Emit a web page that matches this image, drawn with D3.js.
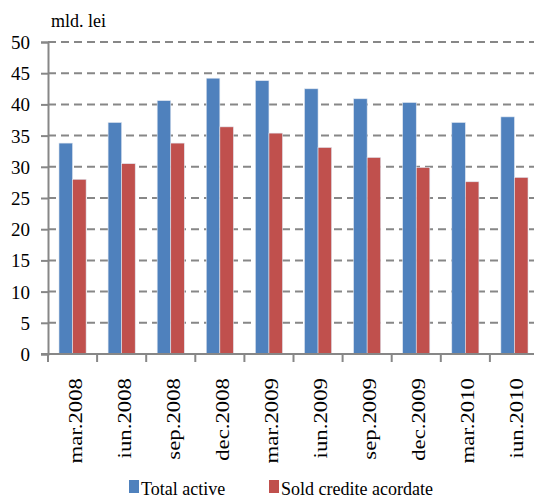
<!DOCTYPE html>
<html>
<head>
<meta charset="utf-8">
<script src="https://cdn.jsdelivr.net/npm/d3@7"></script>
<style>
  body { margin: 0; background: #fff; }
  svg text { font-family: "Liberation Serif", "Times New Roman", serif; fill: #000; }
</style>
</head>
<body>
<svg id="chart" width="534" height="498"></svg>
<script>
// data
const categories = ["mar.2008", "iun.2008", "sep.2008", "dec.2008", "mar.2009",
                    "iun.2009", "sep.2009", "dec.2009", "mar.2010", "iun.2010"];
const totalActive = [33.8, 37.1, 40.6, 44.2, 43.8, 42.5, 40.9, 40.3, 37.1, 38.0];
const soldCredite = [28.0, 30.5, 33.8, 36.4, 35.4, 33.1, 31.5, 29.9, 27.6, 28.3];
const seriesNames = ["Total active", "Sold credite acordate"];
const yTicks = [0, 5, 10, 15, 20, 25, 30, 35, 40, 45, 50];

const colors = ["#4F81BD", "#C0504D"];

const svg = d3.select("#chart");
const margin = { left: 48, top: 42, right: 539, bottom: 354 }; // plot box in px

const x = d3.scaleBand()
    .domain(categories)
    .range([margin.left, margin.right])
    .paddingInner(0)
    .paddingOuter(0);

const y = d3.scaleLinear()
    .domain([0, 50])
    .range([margin.bottom, margin.top]);

const inner = d3.scaleBand()
    .domain([0, 1])
    .range([0, x.bandwidth()])
    .paddingInner(0)
    .paddingOuter(0.81);

// gridlines
svg.append("g")
    .selectAll("line")
    .data(yTicks.filter(d => d > 0))
    .join("line")
    .attr("x1", margin.left)
    .attr("x2", margin.right)
    .attr("y1", d => y(d))
    .attr("y2", d => y(d))
    .attr("stroke", "#878787")
    .attr("stroke-width", 2)
    .attr("stroke-dasharray", "8,5");

// bars
const rows = categories.map((c, i) => ({ cat: c, vals: [totalActive[i], soldCredite[i]] }));
svg.append("g")
    .selectAll("g")
    .data(rows)
    .join("g")
    .attr("transform", d => `translate(${x(d.cat)},0)`)
    .selectAll("rect")
    .data(d => d.vals.map((v, k) => ({ v, k })))
    .join("rect")
    .attr("x", d => inner(d.k))
    .attr("width", inner.bandwidth())
    .attr("y", d => y(d.v))
    .attr("height", d => y(0) - y(d.v))
    .attr("fill", d => colors[d.k])
    .attr("stroke", "#dfe6f0")
    .attr("stroke-width", 0.6);

// y axis
const yAxis = svg.append("g")
    .attr("transform", `translate(${margin.left},0)`)
    .call(d3.axisLeft(y).tickValues(yTicks).tickSize(7).tickPadding(11));
yAxis.select(".domain").attr("stroke", "#878787").attr("stroke-width", 2);
yAxis.selectAll(".tick line").attr("stroke", "#878787").attr("stroke-width", 2);
yAxis.selectAll(".tick text").style("font-size", "19px").attr("dy", "0.34em");

// x axis with ticks between categories
const xAxisG = svg.append("g")
    .attr("transform", `translate(0,${margin.bottom})`);
xAxisG.append("line")
    .attr("x1", margin.left - 7)
    .attr("x2", margin.right)
    .attr("stroke", "#878787")
    .attr("stroke-width", 2);
xAxisG.selectAll("line.tk")
    .data(categories)
    .join("line")
    .attr("class", "tk")
    .attr("x1", d => x(d))
    .attr("x2", d => x(d))
    .attr("y1", 0)
    .attr("y2", 8)
    .attr("stroke", "#878787")
    .attr("stroke-width", 2);
xAxisG.selectAll("text")
    .data(categories)
    .join("text")
    .attr("transform", d => `translate(${x(d) + x.bandwidth() / 2 + 9},24) rotate(-90) scale(1.2,1)`)
    .attr("text-anchor", "end")
    .style("font-size", "19px")
    .text(d => d);

// unit label
svg.append("text")
    .attr("x", 51)
    .attr("y", 27)
    .style("font-size", "18px")
    .text("mld. lei");

// legend
const legendX = [129, 269];
const legend = svg.append("g")
    .selectAll("g")
    .data(seriesNames)
    .join("g")
    .attr("transform", (d, i) => `translate(${legendX[i]},0)`);
legend.append("rect")
    .attr("y", 480)
    .attr("width", 10)
    .attr("height", 13)
    .attr("fill", (d, i) => colors[i]);
legend.append("text")
    .attr("x", 12)
    .attr("y", 495)
    .style("font-size", "18px")
    .text(d => d);
</script>
</body>
</html>
